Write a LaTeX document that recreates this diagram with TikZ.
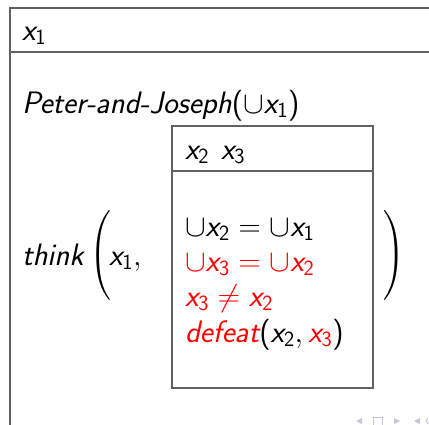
\RequirePackage{fix-cm}
\documentclass[tikz,border=0pt]{standalone}
\usepackage{exscale}
% sans-serif math in the style of a beamer slide
\SetSymbolFont{operators}{normal}{OT1}{cmss}{m}{n}
\DeclareSymbolFont{sfletters}{OT1}{cmss}{m}{sl}
\DeclareMathSymbol{x}{\mathalpha}{sfletters}{`x}
\newcommand{\pred}[1]{{\usefont{OT1}{cmss}{m}{sl}#1}}
\begin{document}
\begin{tikzpicture}[x=1pt,y=-1pt,
  every node/.style={inner sep=0pt,outer sep=0pt,font=\fontsize{31}{37}\selectfont},
  txt/.style={anchor=base west},
  bigparen/.style={font=\fontsize{29}{35}\selectfont},
  boxline/.style={draw=black!62,line width=1.3pt},
  navsym/.style={fill=blue!30!gray!35,draw=none}]
  \useasboundingbox (0,0) rectangle (429,424);
  \clip (0,0) rectangle (429,424);
  % outer box (continues past the right and bottom edges)
  \draw[boxline] (10,440) -- (10,8) -- (440,8);
  \draw[boxline] (10,52) -- (440,52);
  \node[txt] (u1) at (22,40) {$x_1$};
  \node[txt] (pj) at (22,113) {\pred{Peter-and-Joseph}$(\cup x_1)$};
  \node[txt] (think) at (22,265) {\pred{think}};
  \node[bigparen] (lp) at (100.5,257) {$\left(\vrule height 40pt depth 40pt width 0pt\right.$};
  \node[txt] (arg1) at (109,265) {$x_1,$};
  % embedded box
  \draw[boxline] (172,126) rectangle (373,388);
  \draw[boxline] (172,171) -- (373,171);
  \node[txt] (u2) at (185,159) {$x_2\hskip 12pt x_3$};
  \node[txt] (c1) at (185,236) {$\cup x_2 = \cup x_1$};
  \node[txt,text=red] (c2) at (185,271) {$\cup x_3 = \cup x_2$};
  \node[txt,text=red] (c3) at (185,306) {$x_3 \neq x_2$};
  \node[txt] (c4) at (185,342) {\textcolor{red}{\pred{defeat}}$(x_2, \textcolor{red}{x_3})$};
  \node[bigparen] (rp) at (394,257) {$\left.\vrule height 40pt depth 40pt width 0pt\right)$};
  % navigation symbols
  \fill[navsym] (356,421) -- (362,418) -- (362,424) -- cycle;
  \draw[blue!30!gray!35,line width=1pt] (373,417) rectangle (382,425);
  \fill[navsym] (400,421) -- (394,418) -- (394,424) -- cycle;
  \fill[navsym] (414,421) -- (420,418) -- (420,424) -- cycle;
  \draw[blue!30!gray!35,line width=1pt] (428,418) -- (426,421) -- (428,424);
\end{tikzpicture}
\end{document}
